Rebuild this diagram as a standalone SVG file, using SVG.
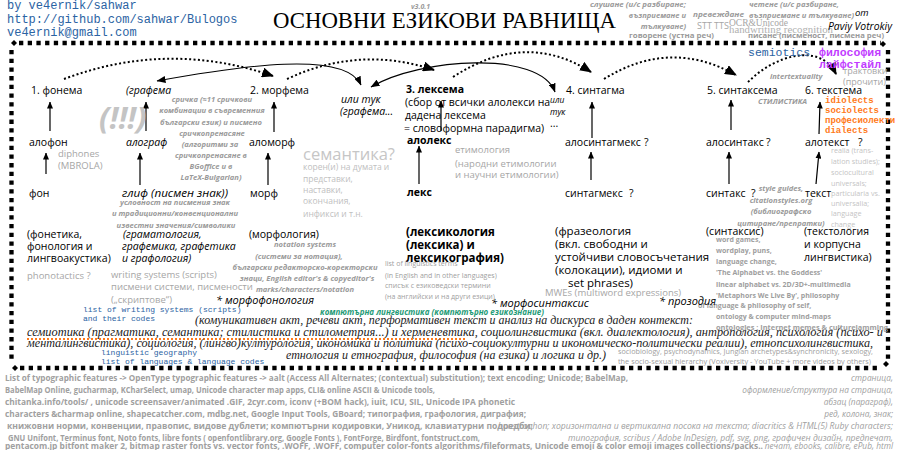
<svg xmlns="http://www.w3.org/2000/svg" width="898" height="450" viewBox="0 0 898 450">
<defs>
<style>
text{font-family:"Open Sans","DejaVu Sans",sans-serif}
.n{font-size:10.5px;fill:#000}
.nb{font-size:10.5px;font-weight:bold;fill:#000}
.ni{font-size:10.5px;font-style:italic;fill:#000}
.d{font-size:11.5px;fill:#000}
.g{font-size:7.6px;font-weight:bold;font-style:italic;fill:#9a9a9a}
.gc{font-size:7.6px;font-weight:bold;font-style:italic;fill:#9a9a9a;text-anchor:middle}
.gbn{font-size:7.8px;font-weight:bold;fill:#9a9a9a}
.gr{font-size:9.5px;fill:#a6a6a6}
.lt{font-size:8.5px;fill:#c0c0c0}
.lt7{font-size:7.2px;fill:#c4c4c4}
.sm{font-size:7px;fill:#a0a0a0}
.gb{font-size:7px;font-weight:bold;fill:#9e9e9e}
.mono{font-family:"Liberation Mono","DejaVu Sans Mono",monospace}
.blue{fill:#2b63a3}
.ser{font-family:"Liberation Serif","DejaVu Serif",serif;font-style:italic;font-size:12.5px;fill:#222}
.bot{font-size:8px;font-weight:bold;fill:#a0a0a0}
.boti{font-size:8.3px;font-style:italic;fill:#a0a0a0;text-anchor:end}
.sq{stroke:#000;stroke-width:4.3;stroke-dasharray:4.3 4.4;fill:none}
.dot{stroke:#000;stroke-width:2;stroke-dasharray:2 2.4;fill:none;marker-end:url(#big)}
.sol{stroke:#000;stroke-width:1.1;fill:none;marker-end:url(#mid);marker-start:url(#mid)}
.up{stroke:#000;stroke-width:1.2;fill:none;marker-end:url(#sm)}
</style>
<marker id="big" markerWidth="12" markerHeight="10" refX="11" refY="5" orient="auto" markerUnits="userSpaceOnUse"><path d="M0,0 L12,5 L0,10 z" fill="#000"/></marker>
<marker id="mid" markerWidth="9" markerHeight="7" refX="8.5" refY="3.5" orient="auto-start-reverse" markerUnits="userSpaceOnUse"><path d="M0,0 L9,3.5 L0,7 z" fill="#000"/></marker>
<marker id="sm" markerWidth="7" markerHeight="6" refX="6.5" refY="3" orient="auto" markerUnits="userSpaceOnUse"><path d="M0,0 L7,3 L0,6 z" fill="#000"/></marker>
</defs>
<rect width="898" height="450" fill="#fff"/>

<g id="header">
<text class="mono blue" x="7" y="9" font-size="12">by ve4ernik/sahwar</text>
<text class="mono blue" x="7" y="23" font-size="12">http://github.com/sahwar/Bulogos</text>
<text class="mono blue" x="7" y="36" font-size="12">ve4ernik@gmail.com</text>
<text x="273" y="28" style="font-family:'Liberation Serif',serif" font-size="22.5" textLength="343" lengthAdjust="spacingAndGlyphs">ОСНОВНИ ЕЗИКОВИ РАВНИЩА</text>
<text class="g" x="411" y="9" style="font-size:7px">v3.0.1</text>
</g>

<g id="border">
<path class="sq" d="M19,43 H881"/>
<path class="sq" d="M11.5,50 V362"/>
<path class="sq" d="M20,368 H881"/>
<path class="sq" d="M888,50 V362"/>
<path d="M14,40 L17,43 L14,46 L11,43 z"/>
<path d="M883,41 L886,44 L883,47 L880,44 z"/>
<path d="M15,365 L18,368 L15,371 L12,368 z"/>
<path d="M886,361 L889,364 L886,367 L883,364 z"/>
</g>

<g id="top-skills">
<text class="g" x="686" y="7" text-anchor="end" textLength="96" lengthAdjust="spacingAndGlyphs">слушане (и/с разбиране;</text>
<text class="g" x="686" y="18" text-anchor="end">възприемане и</text>
<text class="g" x="686" y="29" text-anchor="end">тълкуване)</text>
<text class="g" x="693" y="17" textLength="51" lengthAdjust="spacingAndGlyphs">превеждане</text>
<text class="gr" x="697" y="29" style="font-size:9px">STT</text>
<text class="gr" x="714" y="29" style="font-size:9px">TTS</text>
<text x="729" y="26" style="font-family:'Liberation Serif',serif;font-size:10px;fill:#a6a6a6" textLength="59" lengthAdjust="spacingAndGlyphs">OCR&amp;Unicode</text>
<text x="729" y="33" style="font-family:'Liberation Serif',serif;font-size:9.5px;fill:#b0b0b0" textLength="104" lengthAdjust="spacingAndGlyphs">handwriting recognition</text>
<text class="gbn" x="629" y="38" textLength="85" lengthAdjust="spacingAndGlyphs">говорене (устна реч)</text>
<text class="g" x="749" y="7" textLength="90" lengthAdjust="spacingAndGlyphs">четене (и/с разбиране,</text>
<text class="g" x="749" y="18" textLength="105" lengthAdjust="spacingAndGlyphs">възприемане и тълкуване)</text>
<text x="855" y="16" style="font-size:9.5px;font-style:italic;fill:#000">от</text>
<text x="828" y="30" style="font-size:10px;font-style:italic;fill:#000" textLength="64" lengthAdjust="spacingAndGlyphs">Paviy Votrokiy</text>
<text class="gbn" x="748" y="38" textLength="136" lengthAdjust="spacingAndGlyphs">писане (писменост, писмена реч)</text>
</g>

<g id="connectors">
<path class="dot" d="M64,79 Q168,40 273,76"/>
<path class="dot" d="M287,79 Q360,45 434,70"/>
<path class="dot" d="M453,77 Q525,30 591,72"/>
<path class="dot" d="M604,79 Q670,38 736,75"/>
<path class="dot" d="M748,82 C775,55 820,42 836,74"/>
<path class="sol" d="M157,81 C240,66 345,50 361,85"/>
<path class="sol" d="M371,87 C420,58 540,50 555,92"/>
<path class="up" d="M50,131 V102"/>
<path class="up" d="M46,174 V153"/>
<path class="up" d="M146,131 V102"/>
<path class="up" d="M140,185 V153"/>
<path class="up" d="M274,132 V102"/>
<path class="up" d="M268,185 V153"/>
<path class="up" d="M441,131 V101"/>
<path class="up" d="M419,184 V146"/>
<path class="up" d="M592,138 V102"/>
<path class="up" d="M591,180 V152"/>
<path class="up" d="M731,130 V100"/>
<path class="up" d="M729,184 V152"/>
<path class="up" d="M819,134 L820,102"/>
<path class="up" d="M816,184 L819,152"/>
</g>

<g id="col-phon">
<text class="n" x="31" y="94">1. фонема</text>
<text class="n" x="29" y="146">алофон</text>
<text class="n" x="29" y="197">фон</text>
<text class="gr" x="58" y="157">diphones</text>
<text class="gr" x="58" y="169">(MBROLA)</text>
<text class="n" x="27" y="238">(фонетика,</text>
<text class="n" x="27" y="250">фонология и</text>
<text class="n" x="27" y="262">лингвоакустика)</text>
<text class="gr" x="27" y="279">phonotactics ?</text>
</g>

<g id="col-graph">
<text class="ni" x="126" y="94">(графема</text>
<text class="ni" x="126" y="146">алограф</text>
<text class="ni" x="122" y="197" textLength="106" lengthAdjust="spacingAndGlyphs">глиф (писмен знак))</text>
<text x="99" y="129" style="font-size:31px;font-weight:bold;font-style:italic;fill:#c4c4c4">(!!!)</text>
<text class="gc" x="212" y="102">сричка (≈11 сричкови</text>
<text class="gc" x="212" y="113">комбинации в съвременния</text>
<text class="gc" x="211" y="125">български език) и писмено</text>
<text class="gc" x="212" y="136">сричкопренасяне</text>
<text class="gc" x="210" y="147">(алгоритми за</text>
<text class="gc" x="211" y="158">сричкопренасяне в</text>
<text class="gc" x="211" y="169">BGoffice и в</text>
<text class="gc" x="211" y="180">LaTeX-Bulgarian)</text>
<text class="gc" x="175" y="205">условност на писмения знак</text>
<text class="gc" x="175" y="216">и традиционни/конвенционални</text>
<text class="gc" x="176" y="228">известни значения/символики</text>
<text class="ni" x="123" y="238">(граматология,</text>
<text class="ni" x="122" y="250">графемика, графетика</text>
<text class="ni" x="122" y="262">и графология)</text>
<text class="gr" x="111" y="278">writing systems (scripts)</text>
<text class="gr" x="111" y="290">писмени системи, писмености</text>
<text class="gr" x="111" y="303">(„скриптове“)</text>
<text class="mono blue" x="83" y="312" style="font-size:8px">list of writing systems (scripts)</text>
<text class="mono blue" x="83" y="321" style="font-size:8px">and their codes</text>
</g>

<g id="col-morph">
<text class="n" x="250" y="94">2. морфема</text>
<text class="n" x="249" y="146">аломорф</text>
<text class="n" x="250" y="197">морф</text>
<text class="n" x="249" y="238">(морфология)</text>
<text class="gc" x="305" y="247">notation systems</text>
<text class="gc" x="299" y="259">(системи за нотация),</text>
<text class="gc" x="305" y="270">български редакторско-коректорски</text>
<text class="gc" x="307" y="281">знаци, English editor's &amp; copyeditor's</text>
<text class="gc" x="305" y="292">marks/characters/notation</text>
<text x="216" y="304" style="font-size:11px;font-style:italic;fill:#000">* морфофонология</text>
<text x="303" y="160" style="font-size:16.5px;fill:#c6c6c6">семантика?</text>
<text class="lt" x="303" y="170">корен(и) на думата и</text>
<text class="lt" x="303" y="182">представки,</text>
<text class="lt" x="303" y="193">наставки,</text>
<text class="lt" x="303" y="204">окончания,</text>
<text class="lt" x="303" y="217">инфикси и т.н.</text>
</g>

<g id="col-lex">
<text class="ni" x="341" y="103">или тук</text>
<text class="ni" x="340" y="115">(графема...</text>
<text class="nb" x="406" y="93">3. лексема</text>
<text class="n" x="405" y="106">(сбор от всички алолекси на</text>
<text class="n" x="405" y="119">дадена лексема</text>
<text class="n" x="404" y="132">= словоформна парадигма)</text>
<text class="nb" x="407" y="144">алолекс</text>
<text class="nb" x="407" y="196">лекс</text>
<text class="gr" x="455" y="153">етимология</text>
<text class="gr" x="455" y="167">(народни етимологии</text>
<text class="gr" x="455" y="178">и научни етимологии)</text>
<text x="406" y="236" style="font-size:11.5px;font-weight:bold;fill:#000">(лексикология</text>
<text x="406" y="249" style="font-size:11.5px;font-weight:bold;fill:#000">(лексика) и</text>
<text x="406" y="262" style="font-size:11.5px;font-weight:bold;fill:#000">лексикография)</text>
<text class="sm" x="385" y="266">list of linguistics terms</text>
<text class="sm" x="385" y="278">(in English and in other languages)</text>
<text class="sm" x="385" y="288">списък с езиковедски термини</text>
<text class="sm" x="385" y="299">(на английски и на други езици)</text>
<text x="491" y="307" style="font-size:11px;font-style:italic;fill:#000">* морфосинтаксис</text>
</g>

<g id="col-synt">
<text class="ni" x="550" y="103" style="font-size:8.5px">или</text>
<text class="ni" x="550" y="115" style="font-size:8.5px">тук</text>
<text class="n" x="550" y="127">...</text>
<text class="n" x="566" y="94">4. синтагма</text>
<text class="n" x="565" y="146">алосинтагмекс</text>
<text class="n" x="644" y="146">?</text>
<text class="n" x="565" y="197">синтагмекс</text>
<text class="n" x="629" y="197">?</text>
<text class="d" x="555" y="235">(фразеология</text>
<text class="d" x="555" y="248">(вкл. свободни и</text>
<text class="d" x="555" y="261">устойчиви словосъчетания</text>
<text class="d" x="555" y="274">(колокации), идиоми и</text>
<text class="d" x="568" y="287">set phrases)</text>
<text class="gr" x="545" y="296">MWEs (multiword expressions)</text>
</g>

<g id="col-syntax">
<text class="n" x="707" y="94">5. синтаксема</text>
<text class="n" x="706" y="146">алосинтакс</text>
<text class="n" x="766" y="146">?</text>
<text class="n" x="706" y="197">синтакс</text>
<text class="n" x="751" y="197">?</text>
<text class="g" x="758" y="104">СТИЛИСТИКА</text>
<text class="g" x="770" y="79">intertextuality</text>
<text class="gc" x="781" y="191">style guides,</text>
<text class="gc" x="781" y="203">citationstyles.org</text>
<text class="gc" x="781" y="214">(библиографско</text>
<text class="gc" x="781" y="226">цитиране/препратки)</text>
<text class="n" x="706" y="235">(синтаксис)</text>
<text class="gb" x="716" y="242">word games,</text>
<text class="gb" x="716" y="253">wordplay, puns,</text>
<text class="gb" x="716" y="264">language change,</text>
<text class="gb" x="716" y="275">'The Alphabet vs. the Goddess'</text>
<text class="gb" x="716" y="287">linear alphabet vs. 2D/3D+-multimedia</text>
<text class="gb" x="716" y="298">'Metaphors We Live By', philosophy</text>
<text class="gb" x="698" y="308">of language &amp; philosophy of self,</text>
<text class="gb" x="716" y="319">ontology &amp; computer mind-maps</text>
<text class="gb" x="716" y="330" textLength="172" lengthAdjust="spacingAndGlyphs">ontologies ; Internet memes &amp; culturejamming</text>
<text x="659" y="305" style="font-size:11px;font-style:italic;fill:#000">* прозодия</text>
</g>

<g id="col-text">
<text class="n" x="805" y="94">6. текстема</text>
<text class="n" x="805" y="146">алотекст</text>
<text class="n" x="858" y="146">?</text>
<text class="n" x="805" y="197">текст</text>
<text class="mono blue" x="748" y="56" style="font-size:11.5px">semiotics</text>
<text class="mono" x="819" y="56" style="font-size:11.5px;font-weight:bold;fill:#c13cff">философия</text>
<text class="mono" x="819" y="68" style="font-size:11.5px;font-weight:bold;fill:#c13cff">лайфстайл</text>
<text class="gr" x="843" y="74" style="font-size:9px">трактовки</text>
<text class="gr" x="843" y="85" style="font-size:9px">(прочити)</text>
<text class="mono" x="825" y="103" style="font-size:9px;font-weight:bold;fill:#ff7a1a">idiolects</text>
<text class="mono" x="825" y="113" style="font-size:9px;font-weight:bold;fill:#ff7a1a">sociolects</text>
<text class="mono" x="825" y="123" style="font-size:9px;font-weight:bold;fill:#ff7a1a">професиолекти</text>
<text class="mono" x="825" y="133" style="font-size:9px;font-weight:bold;fill:#ff7a1a">dialects</text>
<text class="lt7" x="831" y="153">realia (trans-</text>
<text class="lt7" x="831" y="164">lation studies);</text>
<text class="lt7" x="831" y="175">sociocultural</text>
<text class="lt7" x="831" y="186">universals;</text>
<text class="lt7" x="831" y="196">particularia vs.</text>
<text class="lt7" x="831" y="206">universalia;</text>
<text class="lt7" x="831" y="216">language</text>
<text class="lt7" x="831" y="227">change</text>
<text class="n" x="804" y="235">(текстология</text>
<text class="n" x="804" y="248">и корпусна</text>
<text class="n" x="804" y="261">лингвистика)</text>
</g>

<g id="fields">
<text x="320" y="315" style="font-size:8px;font-weight:bold;font-style:italic;fill:#1f9b77" textLength="224" lengthAdjust="spacingAndGlyphs">компютърна лингвистика (компютърно езикознание)</text>
<text class="ser" x="195" y="324" textLength="498" lengthAdjust="spacingAndGlyphs">(комуникативен акт, речеви акт, перформативен текст и анализ на дискурса в даден контекст:</text>
<text class="ser" x="27" y="336" textLength="856" lengthAdjust="spacingAndGlyphs">семиотика (прагматика, семантика; стилистика и стилометрия...) и херменевтика, социолингвистика (вкл. диалектология), антропология, психология (психо- и</text>
<path d="M27,339 H465" stroke="#ff7a1a" stroke-width="2" stroke-dasharray="2 2" fill="none"/>
<text class="ser" x="27" y="347" textLength="846" lengthAdjust="spacingAndGlyphs">менталингвистика), социология, (лингво)културология, икономика и политика (психо-социокултурни и икономическо-политически реалии), етнопсихолингвистика,</text>
<text class="ser" x="286" y="359" textLength="320" lengthAdjust="spacingAndGlyphs">етнология и етнография, философия (на езика) и логика и др.)</text>
<text class="mono blue" x="101" y="355" style="font-size:8px">linguistic geography</text>
<text class="mono blue" x="101" y="364" style="font-size:8px">list of languages &amp; language codes</text>
<text class="sm" x="618" y="354" textLength="255" lengthAdjust="spacingAndGlyphs">sociobiology, psychodynamics, Jungian archetypes&amp;synchronicity, sexology,</text>
<text class="sm" x="618" y="364" textLength="253" lengthAdjust="spacingAndGlyphs">the socio-sexual hierarchy (Voxiversity - YouTube + more videos by others)</text>
</g>

<g id="typography">
<text class="bot" x="5" y="381" textLength="623" lengthAdjust="spacingAndGlyphs">List of typographic features -&gt; OpenType typographic features -&gt; aalt (Access All Alternates; (contextual) substitution); text encoding; Unicode; BabelMap,</text>
<text class="bot" x="5" y="393" textLength="430" lengthAdjust="spacingAndGlyphs">BabelMap Online, gucharmap, KCharSelect, umap, Unicode character map apps, CLI&amp; online ASCII &amp; Unicode tools,</text>
<text class="bot" x="5" y="405" textLength="510" lengthAdjust="spacingAndGlyphs">chitanka.info/tools/ , unicode screensaver/animated .GIF, 2cyr.com, iconv (+BOM hack), iuit, ICU, SIL, Unicode IPA phonetic</text>
<text class="bot" x="5" y="417" textLength="521" lengthAdjust="spacingAndGlyphs">characters &amp;charmap online, shapecatcher.com, mdbg.net, Google Input Tools, GBoard; типография, графология, диграфия;</text>
<text class="bot" x="7" y="429" textLength="526" lengthAdjust="spacingAndGlyphs">книжовни норми, конвенции, правопис, видове дублети; компютърни кодировки, Уникод, клавиатурни подредби;</text>
<text class="bot" x="8" y="441" textLength="472" lengthAdjust="spacingAndGlyphs">GNU Unifont, Terminus font, Noto fonts, libre fonts ( openfontlibrary.org, Google Fonts ), FontForge, Birdfont, fontstruct.com,</text>
<text class="bot" x="5" y="449" textLength="758" lengthAdjust="spacingAndGlyphs">pentacom.jp bitfont maker 2, bitmap raster fonts vs. vector fonts, .WOFF, .WOFF, computer color-fonts algorithms/fileformats, Unicode emoji &amp; color emoji images collections/packs..</text>
<text class="boti" x="893" y="381">страница,</text>
<text class="boti" x="893" y="393">оформление/структура на страница,</text>
<text class="boti" x="893" y="405">абзац (параграф),</text>
<text class="boti" x="893" y="417">ред, колона, знак;</text>
<text class="boti" x="893" y="429" textLength="395" lengthAdjust="spacingAndGlyphs">boustrophon; хоризонтална и вертикална посока на текста; diacritics &amp; HTML(5) Ruby characters;</text>
<text class="boti" x="893" y="441" textLength="325" lengthAdjust="spacingAndGlyphs">типография, scribus / Adobe InDesign, pdf, svg, png, графичен дизайн, предпечат,</text>
<text class="boti" x="893" y="449">печат, ebooks, calibre, ePub, html</text>
</g>
</svg>
